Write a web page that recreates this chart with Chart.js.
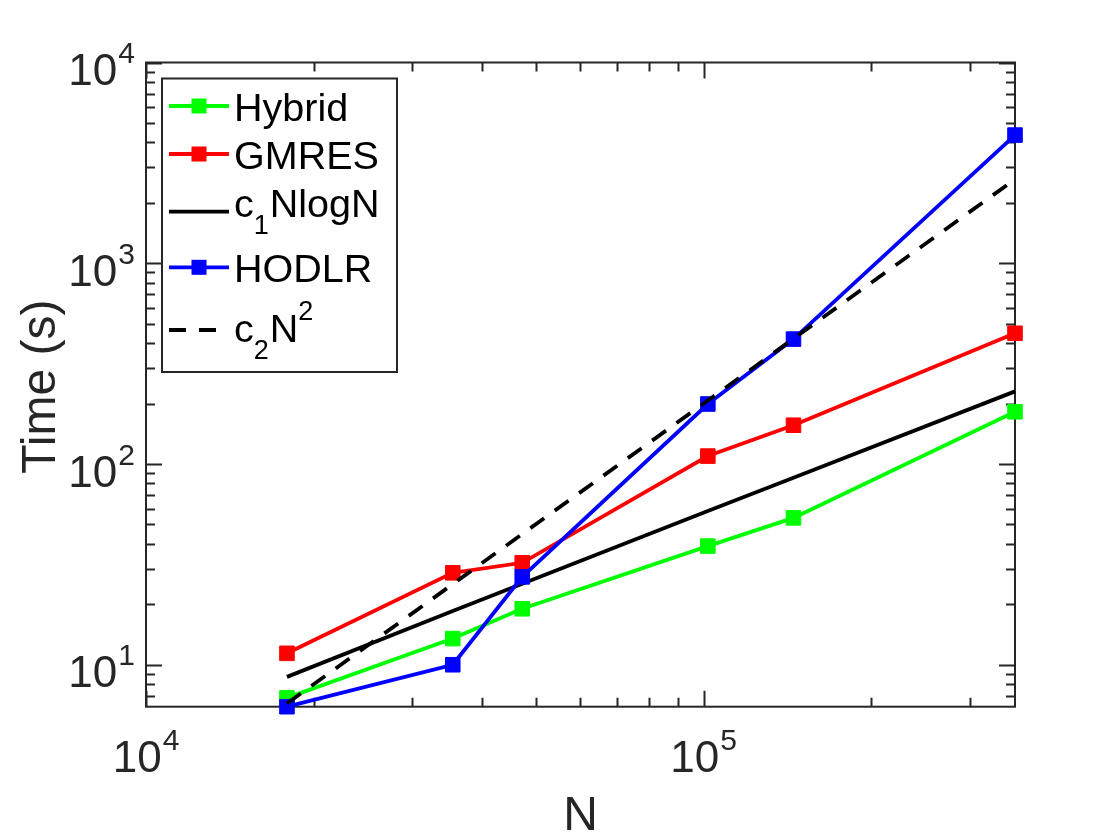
<!DOCTYPE html>
<html>
<head>
<meta charset="utf-8">
<title>Time vs N</title>
<script src="https://cdn.jsdelivr.net/npm/chart.js"></script>
<style>
  html, body { margin: 0; padding: 0; background: #fff; }
  canvas { display: block; }
</style>
</head>
<body>
<canvas id="timeChart" width="1120" height="840"></canvas>
<script>
// valori citite de pe graficul log-log
var sizesN     = [17900, 35500, 47300, 101800, 145000, 362000];
var hybridTime = [6.84, 13.5, 19.0, 39.0, 53.9, 182];
var gmresTime  = [11.4, 28.7, 32.2, 109.5, 156, 448];
var nlognRef   = [8.7, 18.5, 25.3, 58.3, 85.5, 230];
var hodlrTime  = [6.18, 10.0, 27.4, 199, 419, 4350];
var n2Ref      = [6.41, 25.2, 44.8, 207, 421, 2620];
var seriesNames = ['Hybrid', 'GMRES', 'c_1NlogN', 'HODLR', 'c_2N^2'];
var xTickExp = [4, 5];
var yTickExp = [1, 2, 3, 4];
var xRange = [1e4, 362000];
var yRange = [6.18, 1e4];

var FONT = '"Liberation Sans", Arial, Helvetica, sans-serif';
var AXIS_COLOR = '#262626';

function pts(ys) {
    return sizesN.map(function(n, i) { return { x: n, y: ys[i] }; });
}

function series(label, ys, color, withMarkers, dash, order) {
    return {
        label: label,
        data: pts(ys),
        borderColor: color,
        backgroundColor: color,
        borderWidth: 3.8,
        borderDash: dash || [],
        pointStyle: 'rect',
        pointRadius: withMarkers ? 10.3 : 0,
        pointHoverRadius: withMarkers ? 10.3 : 0,
        pointBorderWidth: 1,
        tension: 0,
        clip: false,
        order: order
    };
}

// text cu indici: _x = subscript, ^x = superscript (un caracter)
function drawRich(ctx, str, x, baseline, size, small) {
    var i = 0, cx = x;
    while (i < str.length) {
        var ch = str[i];
        if ((ch === '_' || ch === '^') && i + 1 < str.length) {
            ctx.font = small + 'px ' + FONT;
            var dy = ch === '_' ? 17.5 : -21.5;
            ctx.fillText(str[i + 1], cx, baseline + dy);
            cx += ctx.measureText(str[i + 1]).width + 1;
            i += 2;
        } else {
            ctx.font = size + 'px ' + FONT;
            ctx.fillText(ch, cx, baseline);
            cx += ctx.measureText(ch).width;
            i += 1;
        }
    }
}

function powerLabelWidth(ctx, e) {
    ctx.font = '44px ' + FONT;
    var w10 = ctx.measureText('10').width;
    ctx.font = '30px ' + FONT;
    return { w10: w10, total: w10 + 1 + ctx.measureText(String(e)).width };
}

function drawPower(ctx, e, left, baseline) {
    var w = powerLabelWidth(ctx, e);
    ctx.font = '44px ' + FONT;
    ctx.fillText('10', left, baseline);
    ctx.font = '30px ' + FONT;
    ctx.fillText(String(e), left + w.w10 + 1, baseline - 22);
}

var matlabAxes = {
    id: 'matlabAxes',
    beforeDatasetsDraw: function(chart) {
        var ctx = chart.ctx, a = chart.chartArea;
        var xs = chart.scales.x, ys = chart.scales.y;
        ctx.save();
        ctx.strokeStyle = AXIS_COLOR;
        ctx.lineWidth = 2;
        ctx.beginPath();
        var d, m, v, p, len;
        for (d = 3; d <= 6; d++) {
            for (m = 1; m <= 9; m++) {
                v = m * Math.pow(10, d);
                if (v < xRange[0] || v > xRange[1]) continue;
                p = Math.round(xs.getPixelForValue(v)) + 0.5;
                len = m === 1 ? 16 : 9;
                ctx.moveTo(p, a.bottom); ctx.lineTo(p, a.bottom - len);
                ctx.moveTo(p, a.top); ctx.lineTo(p, a.top + len);
            }
        }
        for (d = 0; d <= 4; d++) {
            for (m = 1; m <= 9; m++) {
                v = m * Math.pow(10, d);
                if (v < yRange[0] || v > yRange[1]) continue;
                p = Math.round(ys.getPixelForValue(v)) + 0.5;
                len = m === 1 ? 16 : 9;
                ctx.moveTo(a.left, p); ctx.lineTo(a.left + len, p);
                ctx.moveTo(a.right, p); ctx.lineTo(a.right - len, p);
            }
        }
        ctx.stroke();
        ctx.strokeRect(a.left, a.top, a.right - a.left, a.bottom - a.top);

        // etichete axe
        ctx.fillStyle = AXIS_COLOR;
        ctx.textAlign = 'left';
        ctx.textBaseline = 'alphabetic';
        xTickExp.forEach(function(e) {
            var px = xs.getPixelForValue(Math.pow(10, e));
            var w = powerLabelWidth(ctx, e);
            drawPower(ctx, e, px - w.total / 2, a.bottom + 65.3);
        });
        yTickExp.forEach(function(e) {
            var py = ys.getPixelForValue(Math.pow(10, e));
            var w = powerLabelWidth(ctx, e);
            drawPower(ctx, e, a.left - 11 - w.total, py + 22.7);
        });

        ctx.font = '48px ' + FONT;
        ctx.textAlign = 'center';
        ctx.fillText('N', (a.left + a.right) / 2, a.bottom + 123.3);
        ctx.save();
        ctx.translate(a.left - 91, (a.top + a.bottom) / 2 + 2);
        ctx.rotate(-Math.PI / 2);
        ctx.fillText('Time (s)', 0, 0);
        ctx.restore();
        ctx.restore();
    },
    afterDraw: function(chart) {
        var ctx = chart.ctx, a = chart.chartArea;
        var bx = a.left + 16, by = a.top + 16;
        ctx.save();
        ctx.fillStyle = '#fff';
        ctx.fillRect(bx, by, 235, 293.5);
        ctx.strokeStyle = AXIS_COLOR;
        ctx.lineWidth = 2;
        ctx.strokeRect(bx, by, 235, 293.5);

        var lineY = [27.5, 75.5, 133.2, 188.8, 251.5];
        var textY = [42.2, 90.8, 138.2, 203.2, 263.2];
        chart.data.datasets.forEach(function(ds, i) {
            var y = by + lineY[i];
            ctx.strokeStyle = ds.borderColor;
            ctx.lineWidth = ds.borderWidth;
            ctx.setLineDash(ds.borderDash);
            ctx.beginPath();
            ctx.moveTo(bx + 7, y);
            ctx.lineTo(bx + 67, y);
            ctx.stroke();
            ctx.setLineDash([]);
            if (ds.pointRadius > 0) {
                ctx.fillStyle = ds.backgroundColor;
                ctx.fillRect(bx + 37 - 7.5, y - 7.5, 15, 15);
            }
            ctx.fillStyle = '#000';
            ctx.textAlign = 'left';
            drawRich(ctx, ds.label, bx + 72, by + textY[i], 39.5, 27);
        });
        ctx.restore();
    }
};

document.addEventListener('DOMContentLoaded', function() {
    var ctx = document.getElementById('timeChart').getContext('2d');
    new Chart(ctx, {
        type: 'line',
        data: {
            datasets: [
                series(seriesNames[0], hybridTime, '#00ff00', true, null, 5),
                series(seriesNames[1], gmresTime, '#ff0000', true, null, 4),
                series(seriesNames[2], nlognRef, '#000000', false, null, 3),
                series(seriesNames[3], hodlrTime, '#0000ff', true, null, 2),
                series(seriesNames[4], n2Ref, '#000000', false, [17, 13], 1)
            ]
        },
        options: {
            responsive: false,
            animation: false,
            devicePixelRatio: 1,
            layout: { padding: { left: 146, right: 105, top: 62.5, bottom: 133.3 } },
            plugins: {
                legend: { display: false },
                tooltip: { enabled: false }
            },
            scales: {
                x: { type: 'logarithmic', min: xRange[0], max: xRange[1], display: false },
                y: { type: 'logarithmic', min: yRange[0], max: yRange[1], display: false }
            }
        },
        plugins: [matlabAxes]
    });
});
</script>
</body>
</html>
